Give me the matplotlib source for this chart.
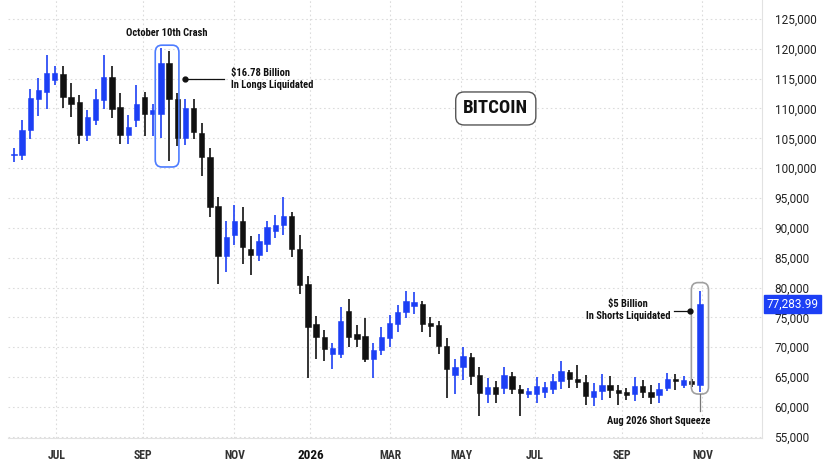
import os
import matplotlib
matplotlib.use("Agg")
import matplotlib.pyplot as plt
from matplotlib import font_manager as fm
from matplotlib.patches import FancyBboxPatch

# weekly candles (open, high, low, close)
opens = [102230, 102170, 106330, 111670, 112720, 114830, 115830, 111950, 111050, 105500,
         108050, 111380, 115220, 110220, 105500, 108050, 111950, 109000, 109000, 117620,
         111620, 104980, 110000, 105950, 101880, 93720, 85220, 88830, 91220, 86500,
         85500, 87330, 89550, 90550, 91950, 86500, 80550, 73880, 71780, 68880,
         68880, 76120, 72220, 71950, 68000, 69550, 71620, 73830, 75830, 76880,
         77330, 74000, 73720, 70280, 65380, 66670, 68330, 65280, 62170, 63330,
         63170, 65220, 62980, 62170, 62170, 62500, 63050, 64280, 65830, 64720,
         64120, 61670, 62620, 63620, 62880, 62500, 62170, 63450, 62500, 61950,
         63170, 64670, 63620, 64300, 63720]
highs = [103450, 108000, 113280, 115120, 118880, 117050, 117050, 114280, 112330, 109670,
         113280, 118880, 117170, 112620, 108830, 113880, 112720, 110670, 120120, 119550,
         112620, 111620, 111620, 107500, 103450, 95120, 91220, 93880, 93450, 88720,
         88980, 91220, 92170, 95220, 92620, 88830, 81950, 75280, 72880, 70670,
         76780, 78050, 73720, 74950, 70780, 73330, 75380, 77050, 79380, 79280,
         77780, 75120, 74380, 71620, 68050, 70000, 69000, 66620, 64830, 64280,
         66670, 65830, 63720, 63170, 64950, 64170, 65500, 67620, 66220, 66950,
         65280, 64000, 65500, 65120, 63720, 63170, 64950, 64550, 63620, 64000,
         65670, 65500, 65120, 64600, 79380]
lows = [101050, 101380, 104830, 108720, 109830, 113880, 110120, 108620, 103980, 104550,
        107170, 109830, 108450, 104000, 104000, 106950, 105380, 105380, 105120, 101220,
        103720, 103830, 104830, 98720, 91880, 80550, 82620, 87050, 83980, 82050,
        84380, 85950, 88330, 88830, 85120, 78980, 64830, 68050, 67720, 66330,
        68170, 70120, 70120, 67450, 64830, 68720, 70120, 72500, 74830, 75550,
        72500, 71780, 68880, 61500, 62170, 64550, 63620, 58550, 60670, 60670,
        62220, 62220, 58450, 61500, 60670, 61500, 62220, 63050, 63170, 63170,
        60380, 60120, 61220, 61500, 60380, 61220, 60950, 61500, 60500, 60670,
        62720, 62880, 63170, 63300, 62500]
closes = [102450, 106380, 111780, 113170, 115950, 115950, 111880, 110830, 105500, 108550,
          111620, 115220, 109830, 105550, 106880, 110670, 109000, 109720, 117620, 111620,
          104980, 110120, 106050, 101880, 93550, 85220, 88450, 91220, 86780, 85500,
          87880, 90120, 90500, 92050, 86500, 80380, 73330, 71670, 69670, 69830,
          74450, 71670, 71330, 68050, 69550, 71670, 74000, 75950, 77780, 77500,
          73880, 73620, 70280, 66380, 66620, 68500, 65120, 62330, 63280, 62220,
          65380, 62980, 62320, 62620, 63550, 63280, 64280, 65950, 64720, 64170,
          61780, 62720, 63620, 62880, 62330, 62050, 63450, 62500, 61620, 63050,
          64670, 64380, 64550, 63900, 77283.99]

month_labels = ["JUL", "SEP", "NOV", "2026", "MAR", "MAY", "JUL", "SEP", "NOV"]
month_pos = [5.2, 15.85, 27.0, 36.3, 46.1, 54.8, 63.8, 74.4, 84.3]
price_ticks = list(range(55000, 125001, 5000))
last_price = closes[-1]

BLUE = "#1c3ff5"
BLACK = "#111111"
GRID = "#dcdcdc"


def pick_condensed_bold():
    # look for a narrow bold face on this machine, else fall back to Roboto bold
    wanted = ["RobotoCondensed-Bold", "NotoSans-CondensedBold",
              "NotoSans-SemiCondensedBold", "DejaVuSansCondensed-Bold",
              "LiberationSansNarrow-Bold"]
    files = [f.fname for f in fm.fontManager.ttflist]
    for w in wanted:
        for p in files:
            if os.path.basename(p).startswith(w):
                return fm.FontProperties(fname=p)
    return fm.FontProperties(family="Roboto", weight="bold")


COND = pick_condensed_bold()


def cond(size):
    fp = COND.copy()
    fp.set_size(size)
    return fp


fig = plt.figure(figsize=(8.28, 4.66), dpi=100)
ax = fig.add_axes([8 / 828, 28 / 466, 754 / 828, 438 / 466])

for i in range(len(opens)):
    o, h, l, c = opens[i], highs[i], lows[i], closes[i]
    col = BLUE if c >= o else BLACK
    ax.vlines(i, l, h, color=col, linewidth=1.2, zorder=3)
    bottom = min(o, c)
    height = max(abs(c - o), 150)
    ax.bar(i, height, bottom=bottom, width=0.66, color=col, edgecolor=col,
           linewidth=0.4, zorder=4)

ax.set_xlim(-0.73, 91.6)
ax.set_ylim(54800, 128170)

ax.yaxis.tick_right()
ax.set_yticks(price_ticks)
ax.set_yticklabels([f"{v:,}" for v in price_ticks], fontsize=8.5, color="#222222",
                   family="Roboto")
ax.tick_params(axis="y", length=0, pad=9)
ax.set_xticks(month_pos)
ax.set_xticklabels(month_labels, color="#333333", fontproperties=cond(8.5))
ax.tick_params(axis="x", length=0, pad=8)
for lbl in ax.get_xticklabels():
    if lbl.get_text() == "2026":
        lbl.set_color("#111111")
        lbl.set_fontsize(9.5)

ax.grid(True, color=GRID, linestyle=(0, (1.5, 2.5)), linewidth=0.8, zorder=0)
for s in ["top", "left"]:
    ax.spines[s].set_visible(False)
ax.spines["right"].set_color("#e2e2e2")
ax.spines["bottom"].set_color("#e2e2e2")

# last price tag
ax.text(1.006, last_price, f"{last_price:,.2f}", transform=ax.get_yaxis_transform(),
        fontsize=8.5, color="white", family="Roboto", va="center", ha="left",
        bbox=dict(boxstyle="square,pad=0.2", facecolor=BLUE, edgecolor=BLUE),
        clip_on=False)

# October crash box
ax.add_patch(FancyBboxPatch((17.3, 100200), 2.9, 20400,
                            boxstyle="round,pad=0,rounding_size=0.8",
                            mutation_aspect=1500, fill=False,
                            edgecolor="#4d7cff", linewidth=1.2, zorder=5))
ax.text(18.7, 122700, "October 10th Crash", ha="center", va="center",
        color="#111111", fontproperties=cond(7.6))
ax.plot([21.0, 25.7], [115000, 115000], color="#111111", linewidth=0.9, zorder=5)
ax.plot(21.0, 115000, "o", color="#111111", markersize=3.5, zorder=6)
ax.text(26.6, 115000, "$16.78 Billion\nIn Longs Liquidated", ha="left", va="center",
        color="#111111", linespacing=1.25, fontproperties=cond(7.6))

# title badge
ax.text(59.0, 110000, "BITCOIN", ha="center", va="center",
        color="#111111", fontproperties=cond(13.5),
        bbox=dict(boxstyle="round,pad=0.4,rounding_size=0.45", facecolor="white",
                  edgecolor="#555555", linewidth=1.0))

# short squeeze box
ax.add_patch(FancyBboxPatch((82.95, 62170), 2.1, 18660,
                            boxstyle="round,pad=0,rounding_size=0.8",
                            mutation_aspect=1500, fill=False,
                            edgecolor="#a0a0a0", linewidth=1.2, zorder=5))
ax.plot([80.8, 82.8], [76000, 76000], color="#111111", linewidth=0.9, zorder=5)
ax.plot(82.8, 76000, "o", color="#111111", markersize=3.5, zorder=6)
ax.text(75.2, 76250, "$5 Billion\nIn Shorts Liquidated", ha="center", va="center",
        color="#111111", linespacing=1.25, fontproperties=cond(7.6))
ax.plot([84, 84], [62170, 59300], color="#777777", linewidth=0.9, zorder=5)
ax.text(79.0, 57670, "Aug 2026 Short Squeeze", ha="center", va="center",
        color="#111111", fontproperties=cond(7.6))

fig.savefig("out.png", dpi=100)
